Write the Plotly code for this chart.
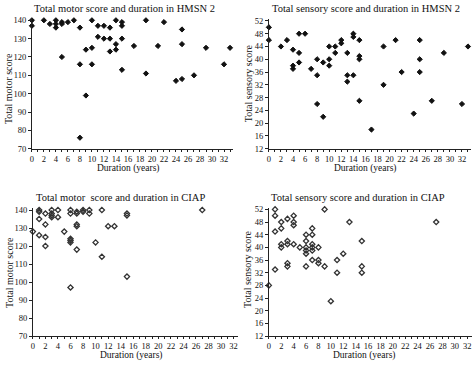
import plotly.graph_objects as go

# HMSN 2 motor
hm_dur = [0,0,2,3,4,4,4,5,5,5,6,7,8,8,8,9,9,10,10,10,11,11,12,12,13,13,13,14,14,14,15,15,15,15,17,19,19,21,22,24,25,25,25,27,29,32,33]
hm_motor = [140,137,140,138,140,138,136,139,138,120,139,140,136,116,76,124,99,140,125,116,137,131,137,130,136,130,123,140,127,124,139,137,130,113,126,140,111,126,139,107,135,127,108,110,125,116,125]

# HMSN 2 sensory
hs_dur = [0,0,2,3,4,4,4,5,5,5,6,7,8,8,8,9,9,10,10,10,11,11,12,12,13,13,13,14,14,14,15,15,15,15,17,19,19,21,22,24,25,25,25,27,29,32,33]
hs_sens = [50,46,44,46,43,38,37,48,42,39,48,37,40,35,26,39,22,44,40,38,44,42,46,45,42,35,33,48,47,35,46,41,40,27,18,44,32,46,36,23,46,40,36,27,42,26,44]

# CIAP motor
cm_dur = [0,1,1,1,1,2,2,2,2,3,3,3,3,4,4,5,6,6,6,6,6,6,7,7,7,7,7,8,8,9,9,10,11,11,12,13,15,15,15,27]
cm_motor = [128,140,139,135,126,138,132,125,120,140,138,137,136,140,136,128,140,138,124,123,122,97,139,138,132,131,118,140,139,140,138,122,140,114,131,131,138,137,103,140]

# CIAP sensory
cs_dur = [0,1,1,1,1,2,2,2,2,3,3,3,3,3,4,4,4,4,5,6,6,6,6,6,6,7,7,7,7,7,7,8,8,8,9,9,10,11,11,12,13,15,15,15,27]
cs_sens = [28,52,50,45,33,48,46,41,40,49,42,41,35,34,50,48,47,41,40,44,42,40,39,38,34,46,44,41,40,39,36,40,36,35,52,34,23,36,32,38,48,42,34,32,48]

titles = ["Total motor score and duration in HMSN 2",
          "Total sensory score and duration in HMSN 2",
          "Total motor  score and duration in CIAP",
          "Total sensory score and duration in CIAP"]
ytitles = ["Total motor score", "Total sensory score", "Total motor score", "Total sensory score"]
xtitle = "Duration (years)"
motor_ticks = [70, 80, 90, 100, 110, 120, 130, 140]
sens_ticks = [12, 16, 20, 24, 28, 32, 36, 40, 44, 48, 52]
x_ticks = list(range(0, 33, 2))

W, H = 474, 365
FONT = "Liberation Serif"

fig = go.Figure()

panels = [
    dict(x=hm_dur, y=hm_motor, sym="diamond", dom_x=(30, 232), dom_y=(15.8, 149), xr=[0, 33.5], yr=[70, 141], yt=motor_ticks),
    dict(x=hs_dur, y=hs_sens, sym="diamond", dom_x=(268, 471), dom_y=(16.7, 149), xr=[0, 33.5], yr=[12, 52.5], yt=sens_ticks),
    dict(x=cm_dur, y=cm_motor, sym="diamond-open", dom_x=(31, 237), dom_y=(209.8, 340.5), xr=[0, 32.7], yr=[70, 141], yt=motor_ticks),
    dict(x=cs_dur, y=cs_sens, sym="diamond-open", dom_x=(268, 471.5), dom_y=(209.4, 340.5), xr=[0, 32.7], yr=[12, 52.5], yt=sens_ticks),
]

for i, p in enumerate(panels):
    n = "" if i == 0 else str(i + 1)
    filled = p["sym"] == "diamond"
    fig.add_trace(go.Scatter(
        x=p["x"], y=p["y"], mode="markers",
        marker=dict(symbol=p["sym"], size=4,
                    color="#111" if filled else "#333",
                    line=dict(color="#111" if filled else "#333", width=1 if filled else 1.3)),
        xaxis="x" + n, yaxis="y" + n, showlegend=False, cliponaxis=False))
    ax = dict(domain=[p["dom_x"][0] / W, p["dom_x"][1] / W], range=p["xr"],
              anchor="y" + n, tickmode="array", tickvals=x_ticks,
              ticks="outside", ticklen=2, tickwidth=1, tickcolor="#222",
              showline=True, linecolor="#222", linewidth=1, showgrid=False, zeroline=False,
              tickfont=dict(family=FONT, size=8.5, color="#111"),
              minor=dict(dtick=1, tick0=0, ticks="outside", ticklen=2, tickcolor="#222", showgrid=False))
    ay = dict(domain=[1 - p["dom_y"][1] / H, 1 - p["dom_y"][0] / H], range=p["yr"],
              anchor="x" + n, tickmode="array", tickvals=p["yt"],
              ticks="outside", ticklen=3, tickwidth=1, tickcolor="#222",
              showline=True, linecolor="#222", linewidth=1, showgrid=False, zeroline=False,
              tickfont=dict(family=FONT, size=8.5, color="#111"))
    fig.update_layout(**{"xaxis" + n: ax, "yaxis" + n: ay})

ann = []
title_pos = [(30, 6), (269, 6), (32, 199), (268, 199)]
for t, (x, y) in zip(titles, title_pos):
    ann.append(dict(text=t, x=x / W, y=1 - y / H, xref="paper", yref="paper",
                    xanchor="left", yanchor="middle", showarrow=False,
                    font=dict(family=FONT, size=10.5, color="#111")))
xt_pos = [(127, 169), (365, 169), (130, 360.5), (364, 360.5)]
for x, y in xt_pos:
    ann.append(dict(text=xtitle, x=x / W, y=1 - y / H, xref="paper", yref="paper",
                    xanchor="center", yanchor="middle", showarrow=False,
                    font=dict(family=FONT, size=9.5, color="#111")))
yt_pos = [(6, 87), (247, 82), (8, 275), (246, 272)]
for t, (x, y) in zip(ytitles, yt_pos):
    ann.append(dict(text=t, x=x / W, y=1 - y / H, xref="paper", yref="paper",
                    xanchor="center", yanchor="middle", showarrow=False, textangle=-90,
                    font=dict(family=FONT, size=10, color="#111")))

fig.update_layout(width=W, height=H, margin=dict(l=0, r=0, t=0, b=0),
                  paper_bgcolor="white", plot_bgcolor="white", annotations=ann)

fig.write_html("out.html", config={"displayModeBar": False},
               post_script="document.body.style.margin='0';")
